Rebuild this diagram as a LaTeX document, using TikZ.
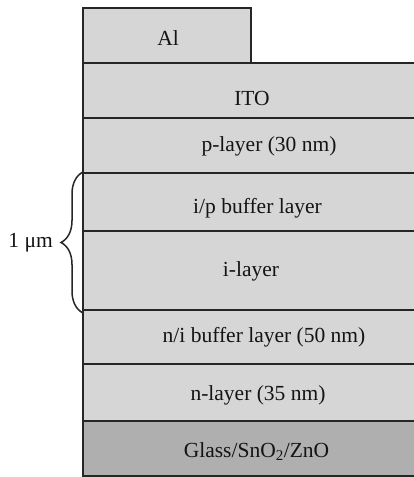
\documentclass[tikz,border=0pt]{standalone}
\usepackage{fontspec}
\setmainfont{Liberation Serif}
\usetikzlibrary{decorations.pathreplacing}
\definecolor{layerfill}{HTML}{D6D6D6}
\definecolor{glassfill}{HTML}{AFAFAF}
\definecolor{edge}{HTML}{262626}
\begin{document}
\begin{tikzpicture}[x=1pt,y=-1pt,
  layer/.style={draw=edge, line width=1.7pt, fill=layerfill, rectangle,
    inner sep=0pt, outer sep=0pt, anchor=north west, minimum width=347pt},
  lbl/.style={anchor=base, inner sep=0pt, font=\fontsize{21.5}{24}\selectfont, text=black!92},
  seam/.style={draw=edge, line width=2.6pt},
  bracestyle/.style={draw=edge, line width=1.5pt, decorate,
    decoration={brace, amplitude=22pt}}]
\clip (0,0) rectangle (414,477);
\fill[white] (0,0) rectangle (414,477);

% layer stack, top to bottom
\node[layer, minimum width=168pt, minimum height=55pt] (al) at (83,8) {};
\node[layer, minimum height=55pt] (ito) at (83,63) {};
\node[layer, minimum height=55pt] (pl) at (83,118) {};
\node[layer, minimum height=58pt] (ipb) at (83,173) {};
\node[layer, minimum height=79pt] (il) at (83,231) {};
\node[layer, minimum height=54pt] (nib) at (83,310) {};
\node[layer, minimum height=57pt] (nl) at (83,364) {};
\node[layer, fill=glassfill, minimum height=55pt] (gl) at (83,421) {};

% heavier interfaces
\draw[seam] (al.south west) -- (al.south east);
\draw[seam] (ipb.north west) -- (ipb.north east);
\draw[seam] (il.south west) -- (il.south east);
\draw[seam] (gl.north west) -- (gl.north east);

% layer names
\node[lbl] (tal)  at (168,45)  {Al};
\node[lbl] (tito) at (252,105) {ITO};
\node[lbl] (tpl)  at (269,151) {p-layer (30 nm)};
\node[lbl] (tipb) at (257.5,213) {i/p buffer layer};
\node[lbl] (til)  at (251,276) {i-layer};
\node[lbl] (tnib) at (264,342) {n/i buffer layer (50 nm)};
\node[lbl] (tnl)  at (258,400) {n-layer (35 nm)};
\node[lbl] (tgl)  at (256.5,457) {Glass/SnO\textsubscript{2}/ZnO};

% thickness brace
\coordinate (bbot) at (83,313);
\coordinate (btop) at (83,172);
\draw[bracestyle] (bbot) -- (btop);
\node[lbl, anchor=base east] (um) at (53,247) {1 μm};
\end{tikzpicture}
\end{document}
